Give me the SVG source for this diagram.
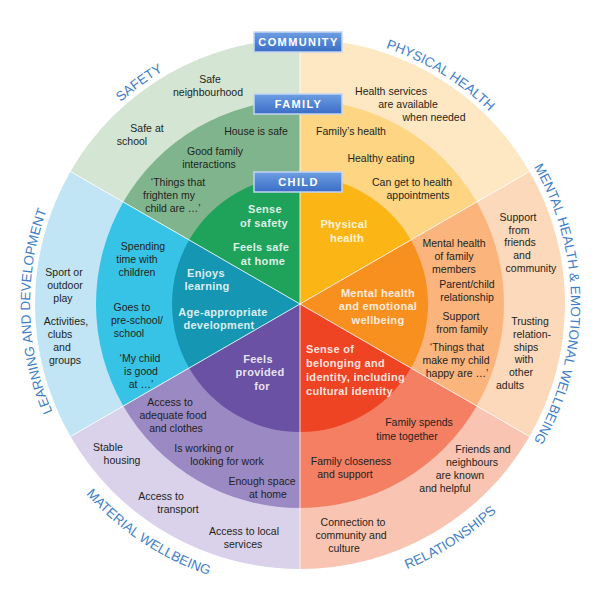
<svg xmlns="http://www.w3.org/2000/svg" width="600" height="600" viewBox="0 0 600 600">
<style>
.t{font-family:"Liberation Sans",Arial,sans-serif;font-size:10.5px;fill:#231f20;text-anchor:middle}
.c{font-family:"Liberation Sans",Arial,sans-serif;font-weight:700;font-size:11px;fill:#fff;fill-opacity:.86;text-anchor:middle;letter-spacing:.3px}
.arc{font-family:"Liberation Sans",sans-serif;font-size:13.5px;fill:#3f80c8}
.div{stroke:#fff;stroke-width:1;stroke-opacity:.8}
.bx rect{fill:url(#bg);stroke:#c3d5f1;stroke-width:1.5}
.bx text{font-family:"Liberation Sans",Arial,sans-serif;font-weight:700;font-size:11px;fill:#fff;letter-spacing:1.4px;text-anchor:middle}
</style>
<defs>
<linearGradient id="bg" x1="0" y1="0" x2="0" y2="1"><stop offset="0" stop-color="#6c9fe2"/><stop offset="1" stop-color="#3b6dc6"/></linearGradient>
<path id="pSaf" d="M33.3,261.8 A270,270 0 0 1 342.2,37.3"/>
<path id="pPhy" d="M237,41.5 A270,270 0 0 1 562.5,241"/>
<path id="pMen" d="M491.6,112.4 A271,271 0 0 1 491.6,495.6"/>
<path id="pLea" d="M114.5,500.2 A270,270 0 0 1 103.8,118.5"/>
<path id="pRel" d="M239.1,583.4 A286,286 0 0 0 579.4,364.9"/>
<path id="pMat" d="M19.7,361 A286,286 0 0 0 357,584.3"/>
</defs>
<rect width="600" height="600" fill="#fff"/>

<g id="safety">
<path d="M300,304 L70.51,171.5 A265,265 0 0 1 300,39 Z" fill="#d4e5d4"/>
<path d="M300,304 L123.33,202 A204,204 0 0 1 300,100 Z" fill="#80b48c"/>
<path d="M300,304 L189.15,240 A128,128 0 0 1 300,176 Z" fill="#1fa35b"/>
<text class="t"><tspan x="210" y="83">Safe</tspan><tspan x="208" y="96">neighbourhood</tspan></text>
<text class="t"><tspan x="147" y="132">Safe at</tspan><tspan x="132" y="145">school</tspan></text>
<text class="t" x="256" y="135">House is safe</text>
<text class="t"><tspan x="215" y="155">Good family</tspan><tspan x="209" y="168">interactions</tspan></text>
<text class="t"><tspan x="178" y="186">‘Things that</tspan><tspan x="169" y="199">frighten my</tspan><tspan x="173" y="212">child are …’</tspan></text>
<text class="c"><tspan x="265" y="213">Sense</tspan><tspan x="264" y="227">of safety</tspan></text>
<text class="c"><tspan x="261" y="251">Feels safe</tspan><tspan x="263" y="265">at home</tspan></text>
<text class="arc"><textPath href="#pSaf" startOffset="50%" text-anchor="middle">SAFETY</textPath></text>
</g>

<g id="physical-health">
<path d="M300,304 L300,39 A265,265 0 0 1 529.49,171.5 Z" fill="#fee8c3"/>
<path d="M300,304 L300,100 A204,204 0 0 1 476.67,202 Z" fill="#fdd583"/>
<path d="M300,304 L300,176 A128,128 0 0 1 410.85,240 Z" fill="#fbb616"/>
<text class="t"><tspan x="391" y="94.5">Health services</tspan><tspan x="408" y="107.5">are available</tspan><tspan x="434" y="120.5">when needed</tspan></text>
<text class="t" x="351" y="135">Family’s health</text>
<text class="t" x="381" y="162">Healthy eating</text>
<text class="t"><tspan x="412" y="185.5">Can get to health</tspan><tspan x="418" y="198.5">appointments</tspan></text>
<text class="c"><tspan x="344" y="228">Physical</tspan><tspan x="347" y="241.5">health</tspan></text>
<text class="arc"><textPath href="#pPhy" startOffset="50%" text-anchor="middle">PHYSICAL HEALTH</textPath></text>
</g>

<g id="mental-health">
<path d="M300,304 L529.49,171.5 A265,265 0 0 1 529.49,436.5 Z" fill="#fdd9bb"/>
<path d="M300,304 L476.67,202 A204,204 0 0 1 476.67,406 Z" fill="#fbb47c"/>
<path d="M300,304 L410.85,240 A128,128 0 0 1 410.85,368 Z" fill="#f7901f"/>
<text class="t"><tspan x="518" y="221">Support</tspan><tspan x="519" y="233.7">from</tspan><tspan x="520" y="246.4">friends</tspan><tspan x="522" y="259.1">and</tspan><tspan x="531" y="271.8">community</tspan></text>
<text class="t"><tspan x="530" y="325.3">Trusting</tspan><tspan x="532" y="338">relation-</tspan><tspan x="526" y="350.7">ships</tspan><tspan x="524" y="363.4">with</tspan><tspan x="521" y="376.1">other</tspan><tspan x="510" y="388.8">adults</tspan></text>
<text class="t"><tspan x="454" y="247">Mental health</tspan><tspan x="454" y="260">of family</tspan><tspan x="454" y="273">members</tspan></text>
<text class="t"><tspan x="467" y="287.5">Parent/child</tspan><tspan x="467" y="300.5">relationship</tspan></text>
<text class="t"><tspan x="461" y="319.5">Support</tspan><tspan x="462" y="332.5">from family</tspan></text>
<text class="t"><tspan x="457" y="351">‘Things that</tspan><tspan x="456" y="364">make my child</tspan><tspan x="457" y="377">happy are …’</tspan></text>
<text class="c"><tspan x="378" y="296.5">Mental health</tspan><tspan x="378" y="310">and emotional</tspan><tspan x="378" y="323.5">wellbeing</tspan></text>
<text class="arc"><textPath href="#pMen" startOffset="50%" text-anchor="middle">MENTAL HEALTH &amp; EMOTIONAL WELLBEING</textPath></text>
</g>

<g id="relationships">
<path d="M300,304 L529.49,436.5 A265,265 0 0 1 300,569 Z" fill="#f9c4b2"/>
<path d="M300,304 L476.67,406 A204,204 0 0 1 300,508 Z" fill="#f47f63"/>
<path d="M300,304 L410.85,368 A128,128 0 0 1 300,432 Z" fill="#ee4424"/>
<text class="t"><tspan x="483" y="452.5">Friends and</tspan><tspan x="472" y="465.5">neighbours</tspan><tspan x="460" y="478.5">are known</tspan><tspan x="445" y="491.5">and helpful</tspan></text>
<text class="t"><tspan x="353" y="526">Connection to</tspan><tspan x="351" y="539">community and</tspan><tspan x="344" y="552">culture</tspan></text>
<text class="t"><tspan x="419" y="426">Family spends</tspan><tspan x="407" y="440">time together</tspan></text>
<text class="t"><tspan x="351" y="465">Family closeness</tspan><tspan x="345" y="478">and support</tspan></text>
<text class="c" style="text-anchor:start"><tspan x="306" y="353">Sense of</tspan><tspan x="306" y="367">belonging and</tspan><tspan x="306" y="381">identity, including</tspan><tspan x="306" y="395">cultural identity</tspan></text>
<text class="arc"><textPath href="#pRel" startOffset="50%" text-anchor="middle">RELATIONSHIPS</textPath></text>
</g>

<g id="material-wellbeing">
<path d="M300,304 L300,569 A265,265 0 0 1 70.51,436.5 Z" fill="#d9d2ea"/>
<path d="M300,304 L300,508 A204,204 0 0 1 123.33,406 Z" fill="#9b89c4"/>
<path d="M300,304 L300,432 A128,128 0 0 1 189.15,368 Z" fill="#6a51a3"/>
<text class="t"><tspan x="244" y="534.5">Access to local</tspan><tspan x="243" y="547.5">services</tspan></text>
<text class="t"><tspan x="161" y="499.5">Access to</tspan><tspan x="178" y="512.5">transport</tspan></text>
<text class="t"><tspan x="108" y="450.5">Stable</tspan><tspan x="122" y="463.5">housing</tspan></text>
<text class="t"><tspan x="262" y="484.5">Enough space</tspan><tspan x="268" y="497.5">at home</tspan></text>
<text class="t"><tspan x="204" y="451.5">Is working or</tspan><tspan x="227" y="464.5">looking for work</tspan></text>
<text class="t"><tspan x="170" y="406">Access to</tspan><tspan x="173" y="419">adequate food</tspan><tspan x="176" y="432">and clothes</tspan></text>
<text class="c"><tspan x="258" y="362.5">Feels</tspan><tspan x="260" y="376">provided</tspan><tspan x="262" y="389.5">for</tspan></text>
<text class="arc"><textPath href="#pMat" startOffset="50%" text-anchor="middle">MATERIAL WELLBEING</textPath></text>
</g>

<g id="learning-development">
<path d="M300,304 L70.51,436.5 A265,265 0 0 1 70.51,171.5 Z" fill="#c1e5f5"/>
<path d="M300,304 L123.33,406 A204,204 0 0 1 123.33,202 Z" fill="#36c3e6"/>
<path d="M300,304 L189.15,368 A128,128 0 0 1 189.15,240 Z" fill="#1596b2"/>
<text class="t"><tspan x="64" y="276">Sport or</tspan><tspan x="65" y="289">outdoor</tspan><tspan x="63" y="302">play</tspan></text>
<text class="t"><tspan x="66" y="324.5">Activities,</tspan><tspan x="60" y="337.5">clubs</tspan><tspan x="62" y="350.5">and</tspan><tspan x="65" y="363.5">groups</tspan></text>
<text class="t"><tspan x="143" y="250">Spending</tspan><tspan x="137" y="263">time with</tspan><tspan x="137" y="276">children</tspan></text>
<text class="t"><tspan x="132" y="311">Goes to</tspan><tspan x="137" y="324">pre-school/</tspan><tspan x="129" y="337">school</tspan></text>
<text class="t"><tspan x="140" y="362">‘My child</tspan><tspan x="141" y="375">is good</tspan><tspan x="141" y="388">at …’</tspan></text>
<text class="c"><tspan x="206" y="276.5">Enjoys</tspan><tspan x="207" y="290">learning</tspan></text>
<text class="c"><tspan x="223" y="315.5">Age-appropriate</tspan><tspan x="219" y="329">development</tspan></text>
<text class="arc"><textPath href="#pLea" startOffset="50%" text-anchor="middle">LEARNING AND DEVELOPMENT</textPath></text>
</g>

<g id="connectors">
<line class="div" x1="300" y1="304" x2="300" y2="39"/>
<line class="div" x1="300" y1="304" x2="529.49" y2="171.5"/>
<line class="div" x1="300" y1="304" x2="529.49" y2="436.5"/>
<line class="div" x1="300" y1="304" x2="300" y2="569"/>
<line class="div" x1="300" y1="304" x2="70.51" y2="436.5"/>
<line class="div" x1="300" y1="304" x2="70.51" y2="171.5"/>
</g>

<g id="label-community" class="bx"><rect x="254" y="32" width="88" height="20"/><text x="298.5" y="46.3">COMMUNITY</text></g>
<g id="label-family" class="bx"><rect x="254" y="94" width="88" height="20"/><text x="298.5" y="108.3">FAMILY</text></g>
<g id="label-child" class="bx"><rect x="254" y="172" width="88" height="20"/><text x="298.5" y="186">CHILD</text></g>
</svg>
